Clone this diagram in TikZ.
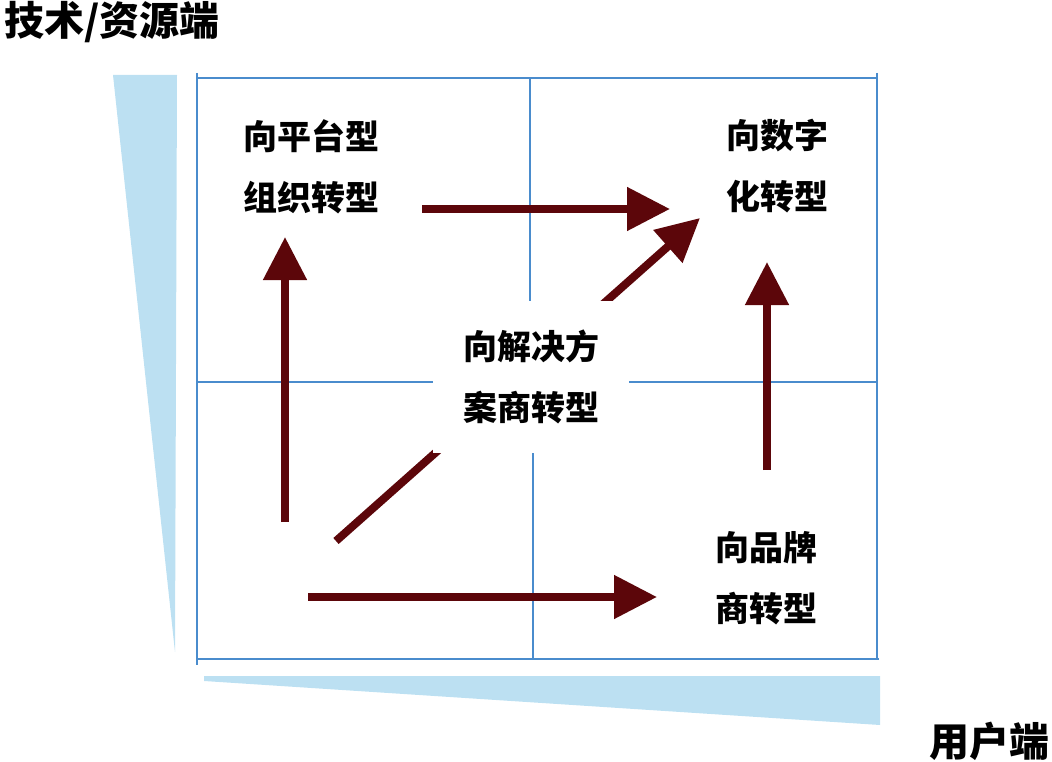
\documentclass[tikz,border=0pt]{standalone}
\usepackage{fontspec}
\usepackage{tikz}
\usetikzlibrary{arrows.meta, positioning, calc}
\newfontfamily\cjk{Noto Sans CJK SC}
\definecolor{gridblue}{RGB}{74, 140, 205}
\definecolor{wedgeblue}{RGB}{188, 224, 242}
\definecolor{maroon1}{RGB}{92, 6, 10}
\tikzset{
  gridline/.style={draw=gridblue, line width=2.5pt},
  wedge/.style={fill=wedgeblue, draw=none},
  move/.style={draw=maroon1, line width=8pt, -{Triangle[length=43pt, width=42pt]}},
  quad/.style={align=center, inner sep=0pt, font=\cjk\bfseries\fontsize{34}{61}\selectfont},
  axislabel/.style={inner sep=0pt, font=\cjk\bfseries\fontsize{40}{44}\selectfont}
}

\begin{document}
\begin{tikzpicture}[x=1pt, y=-1pt]
  \useasboundingbox (0,0) rectangle (1052,762);
  % axis wedges
  \fill[wedge] (113,75) -- (177,75) -- (175,652) -- cycle;
  \fill[wedge] (204,676) -- (880,676) -- (880,725) -- (204,681) -- cycle;
  \node[axislabel, anchor=west] (res) at (4,22) {技术/资源端};
  \node[axislabel, anchor=east] (user) at (1050,741) {用户端};
  % quadrant grid
  \draw[gridline] (197,73) -- (197,665);
  \draw[gridline] (197,78) -- (877,78);
  \draw[gridline] (877,73) -- (877,659);
  \draw[gridline] (197,659) -- (879,659);
  \draw[gridline] (530,78) -- (530,382);
  \draw[gridline] (533,382) -- (533,659);
  \draw[gridline] (197,382) -- (877,382);
  % quadrant labels
  \node[quad] (plat) at (311,167) {向平台型\\组织转型};
  \node[quad] (digi) at (777,166) {向数字\\化转型};
  \node[quad] (brand) at (766,578) {向品牌\\商转型};
  % arrow ends
  \coordinate (p1) at (422,209); \coordinate (p2) at (670,209);
  \coordinate (l1) at (285,522); \coordinate (l2) at (285,237);
  \coordinate (r1) at (767,470); \coordinate (r2) at (767,262);
  \coordinate (b1) at (308,597); \coordinate (b2) at (657,597);
  \coordinate (d1) at (336,541); \coordinate (d2) at (700,218);
  \draw[move] (p1) -- (p2);
  \draw[move] (l1) -- (l2);
  \draw[move] (r1) -- (r2);
  \draw[move] (b1) -- (b2);
  \draw[move] (d1) -- (d2);
  % centre label over the grid
  \node[quad, fill=white, minimum width=196pt, minimum height=152pt] (sol) at (531,377) {向解决方\\案商转型};
\end{tikzpicture}
\end{document}
